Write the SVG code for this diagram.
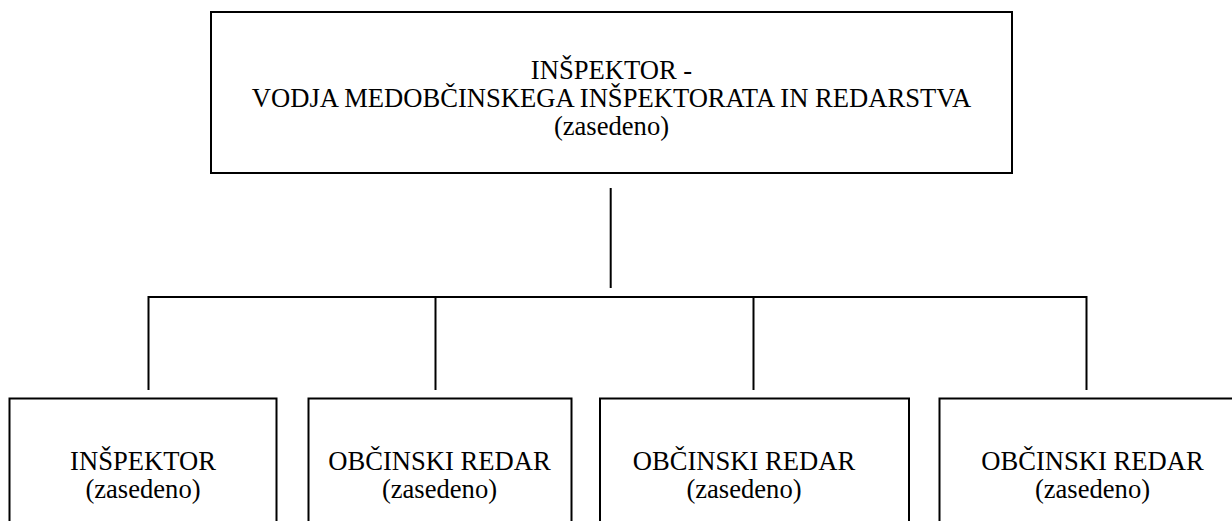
<svg xmlns="http://www.w3.org/2000/svg" width="1232" height="521" viewBox="0 0 1232 521">
<style>
.box{fill:#fff;stroke:#000;stroke-width:2}
.ln{fill:none;stroke:#000;stroke-width:2}
</style>
<rect width="1232" height="521" fill="#fff"/>
<g id="connectors">
<line class="ln" x1="610.7" y1="188" x2="610.7" y2="288"/>
<polyline class="ln" points="148.5,390 148.5,297 1086.5,297 1086.5,390"/>
<line class="ln" x1="435.5" y1="297" x2="435.5" y2="390"/>
<line class="ln" x1="753.5" y1="297" x2="753.5" y2="390"/>
</g>
<g id="top">
<rect class="box" x="211" y="12" width="801" height="161"/>
<text font-family="Liberation Serif" font-size="26.6" text-anchor="middle" x="611.5" y="79">INŠPEKTOR -</text>
<text font-family="Liberation Serif" font-size="26.6" text-anchor="middle" x="611.5" y="107">VODJA MEDOBČINSKEGA INŠPEKTORATA IN REDARSTVA</text>
<text font-family="Liberation Serif" font-size="26.6" text-anchor="middle" x="611.5" y="135">(zasedeno)</text>
</g>
<g id="n1">
<rect class="box" x="9.5" y="398.5" width="267" height="140"/>
<text font-family="Liberation Serif" font-size="26.6" text-anchor="middle" x="143" y="470">INŠPEKTOR</text>
<text font-family="Liberation Serif" font-size="26.6" text-anchor="middle" x="143" y="498">(zasedeno)</text>
</g>
<g id="n2">
<rect class="box" x="308.5" y="398.5" width="263" height="140"/>
<text font-family="Liberation Serif" font-size="26.6" text-anchor="middle" x="439.5" y="470">OBČINSKI REDAR</text>
<text font-family="Liberation Serif" font-size="26.6" text-anchor="middle" x="439.5" y="498">(zasedeno)</text>
</g>
<g id="n3">
<rect class="box" x="600" y="398.5" width="309" height="140"/>
<text font-family="Liberation Serif" font-size="26.6" text-anchor="middle" x="744" y="470">OBČINSKI REDAR</text>
<text font-family="Liberation Serif" font-size="26.6" text-anchor="middle" x="744" y="498">(zasedeno)</text>
</g>
<g id="n4">
<rect class="box" x="939.5" y="398.5" width="310" height="140"/>
<text font-family="Liberation Serif" font-size="26.6" text-anchor="middle" x="1092.5" y="470">OBČINSKI REDAR</text>
<text font-family="Liberation Serif" font-size="26.6" text-anchor="middle" x="1092.5" y="498">(zasedeno)</text>
</g>
</svg>
